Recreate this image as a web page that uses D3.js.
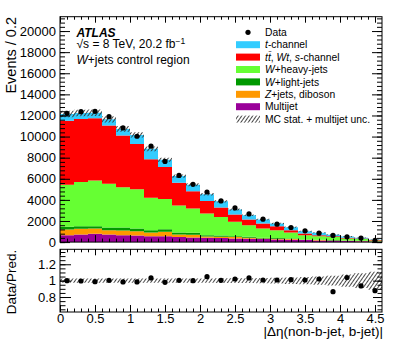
<!DOCTYPE html>
<html>
<head>
<meta charset="utf-8">
<script src="https://cdn.jsdelivr.net/npm/d3@7"></script>
<style>
	body { margin: 0; background: #fff; }
	svg { display: block; font-family: "Liberation Sans", Arial, Helvetica, sans-serif; }
	.axis text { font-size: 13px; fill: #000; }
	.axis line { stroke: #000; stroke-width: 1; }
	.axis path { display: none; }
</style>
</head>
<body>
<div id="graphic"></div>
<script>
// bins of |delta eta|, width 0.2
const binLow = [0.0, 0.2, 0.4, 0.6, 0.8, 1.0, 1.2, 1.4, 1.6, 1.8, 2.0, 2.2, 2.4, 2.6, 2.8, 3.0, 3.2, 3.4, 3.6, 3.8, 4.0, 4.2, 4.4];
const binWidth = 0.2;

// stacked predictions, bottom to top
const multijet   = [660, 723, 786, 723, 660, 629, 566, 566, 472, 440, 409, 377, 346, 315, 283, 252, 220, 189, 157, 126, 110, 80, 30];
const zjets      = [535, 535, 503, 409, 441, 409, 346, 409, 251, 252, 126, 126, 126, 94, 63, 63, 63, 31, 32, 31, 16, 14, 20];
const wlight     = [252, 251, 220, 252, 283, 251, 220, 251, 189, 189, 125, 126, 94, 94, 63, 62, 63, 32, 31, 32, 31, 32, 13];
const wheavy     = [3993, 4183, 4340, 4151, 3805, 3711, 3082, 2862, 2547, 2295, 2044, 1761, 1352, 1101, 880, 755, 566, 408, 346, 283, 189, 157, 94];
const ttbar      = [6069, 5975, 5881, 5503, 4905, 4308, 3648, 3019, 2170, 1635, 1195, 880, 692, 535, 472, 378, 220, 158, 94, 94, 63, 63, 32];
const tchannel   = [629, 566, 534, 597, 629, 849, 974, 692, 629, 629, 629, 598, 472, 408, 378, 251, 283, 220, 221, 126, 126, 63, 31];

const dataCounts = [12201, 12358, 12390, 11887, 10818, 10031, 9088, 7642, 6321, 5472, 4748, 3899, 3239, 2673, 2170, 1698, 1384, 1069, 849, 629, 503, 377, 157];
const dataRatio  = [1.00, 0.996, 0.988, 1.004, 0.984, 0.984, 1.033, 0.98, 1.004, 1.0, 1.049, 1.004, 1.02, 1.033, 1.008, 1.008, 1.012, 1.008, 1.02, 0.865, 1.037, 0.935, 0.878];
// relative MC stat. + multijet uncertainty
const relUnc     = [0.025, 0.025, 0.025, 0.025, 0.025, 0.025, 0.025, 0.025, 0.025, 0.025, 0.025, 0.028, 0.03, 0.03, 0.032, 0.035, 0.04, 0.045, 0.05, 0.06, 0.075, 0.09, 0.11];

const yTicks = [0, 2000, 4000, 6000, 8000, 10000, 12000, 14000, 16000, 18000, 20000];
const xTicks = [0, 0.5, 1, 1.5, 2, 2.5, 3, 3.5, 4, 4.5];
const ratioTicks = [0.8, 1, 1.2];

const series = [
	{ values: multijet, colour: '#990099' },
	{ values: zjets, colour: '#ff9900' },
	{ values: wlight, colour: '#009900' },
	{ values: wheavy, colour: '#66ff33' },
	{ values: ttbar, colour: '#ff0000' },
	{ values: tchannel, colour: '#33ccff' }
];

// legend entries: pieces of [text, italic]
const legendItems = [
	{ type: 'data', parts: [['Data', false]] },
	{ type: 'box', colour: '#33ccff', parts: [['t', true], ['-channel', false]] },
	{ type: 'box', colour: '#ff0000', parts: [['t', true], ['t\u0304', true], [', ', false], ['Wt', true], [', ', false], ['s', true], ['-channel', false]] },
	{ type: 'box', colour: '#66ff33', parts: [['W', true], ['+heavy-jets', false]] },
	{ type: 'box', colour: '#009900', parts: [['W', true], ['+light-jets', false]] },
	{ type: 'box', colour: '#ff9900', parts: [['Z', true], ['+jets, diboson', false]] },
	{ type: 'box', colour: '#990099', parts: [['Multijet', false]] },
	{ type: 'hatch', parts: [['MC stat. + multijet unc.', false]] }
];

const width = 399, height = 355;
const frame = { left: 60, right: 382, top: 16.7, bottom: 242.1 };
const rframe = { top: 249.3, bottom: 312 };

const svg = d3.select('#graphic').append('svg')
	.attr('width', width)
	.attr('height', height);

svg.append('rect').attr('width', width).attr('height', height).attr('fill', '#fff');

const defs = svg.append('defs');
defs.append('pattern')
	.attr('id', 'hatch')
	.attr('patternUnits', 'userSpaceOnUse')
	.attr('width', 3)
	.attr('height', 3)
	.attr('patternTransform', 'rotate(35)')
	.append('line')
	.attr('x1', 0.5).attr('y1', 0)
	.attr('x2', 0.5).attr('y2', 3)
	.attr('stroke', '#333')
	.attr('stroke-width', 0.9);

//scales
const x = d3.scaleLinear().domain([0, 4.6]).range([frame.left, frame.right]);
const y = d3.scaleLinear().domain([0, 21360]).range([frame.bottom, frame.top]);
const yr = d3.scaleLinear().domain([0.617, 1.383]).range([rframe.bottom, rframe.top]);

// step helper: two points per bin
const stepPoints = (fn) => binLow.flatMap((b, i) => [
	{ x: b, ...fn(i) },
	{ x: b + binWidth, ...fn(i) }
]);

// stacked histograms
const tableRows = binLow.map((b, i) => {
	const row = { bin: i };
	series.forEach((s, k) => row['s' + k] = s.values[i]);
	return row;
});
const stacked = d3.stack().keys(series.map((s, k) => 's' + k))(tableRows);

const stackArea = d3.area()
	.x(d => x(d.x))
	.y0(d => y(d.lo))
	.y1(d => y(d.hi));

stacked.forEach((layer, k) => {
	svg.append('path')
		.datum(stepPoints(i => ({ lo: layer[i][0], hi: layer[i][1] })))
		.attr('d', stackArea)
		.attr('fill', series[k].colour);
});

const totals = binLow.map((b, i) => d3.sum(series, s => s.values[i]));

// MC uncertainty band in main panel
svg.append('path')
	.datum(stepPoints(i => ({ lo: totals[i] * (1 - relUnc[i]), hi: totals[i] * (1 + relUnc[i]) })))
	.attr('d', stackArea)
	.attr('fill', 'url(#hatch)');

// main axes
const xMinor = d3.range(0, 46).map(d => d / 10);
const yMinor = d3.range(0, 54).map(d => d * 400);

function addTicks(g, axisFn, scale, values, size) {
	g.call(axisFn(scale).tickValues(values).tickSize(-size).tickFormat(''));
}

const mainAxes = svg.append('g').attr('class', 'axis');

mainAxes.append('g')
	.attr('transform', `translate(${frame.left},0)`)
	.call(d3.axisLeft(y).tickValues(yTicks).tickSize(-10).tickPadding(4).tickFormat(d3.format('d')));
addTicks(mainAxes.append('g').attr('transform', `translate(${frame.left},0)`), d3.axisLeft, y, yMinor, 5);
addTicks(mainAxes.append('g').attr('transform', `translate(${frame.right},0)`), d3.axisRight, y, yTicks, 10);
addTicks(mainAxes.append('g').attr('transform', `translate(${frame.right},0)`), d3.axisRight, y, yMinor, 5);
addTicks(mainAxes.append('g').attr('transform', `translate(0,${frame.bottom})`), d3.axisBottom, x, xTicks, 7);
addTicks(mainAxes.append('g').attr('transform', `translate(0,${frame.bottom})`), d3.axisBottom, x, xMinor, 3.5);
addTicks(mainAxes.append('g').attr('transform', `translate(0,${frame.top})`), d3.axisTop, x, xTicks, 6);
addTicks(mainAxes.append('g').attr('transform', `translate(0,${frame.top})`), d3.axisTop, x, xMinor, 3);

svg.append('rect')
	.attr('x', frame.left).attr('y', frame.top)
	.attr('width', frame.right - frame.left)
	.attr('height', frame.bottom - frame.top)
	.attr('fill', 'none').attr('stroke', '#000');

// data points
svg.append('g')
	.selectAll('circle')
	.data(dataCounts)
	.join('circle')
	.attr('cx', (d, i) => x(binLow[i] + binWidth / 2))
	.attr('cy', d => y(d))
	.attr('r', 2.6)
	.attr('fill', '#000');

// ratio panel
const ratioArea = d3.area()
	.x(d => x(d.x))
	.y0(d => yr(d.lo))
	.y1(d => yr(d.hi));

svg.append('path')
	.datum(stepPoints(i => ({ lo: 1 - relUnc[i], hi: 1 + relUnc[i] })))
	.attr('d', ratioArea)
	.attr('fill', 'url(#hatch)');

const ratioAxes = svg.append('g').attr('class', 'axis');
const rMinor = d3.range(13, 28).map(d => d * 0.05);

ratioAxes.append('g')
	.attr('transform', `translate(${frame.left},0)`)
	.call(d3.axisLeft(yr).tickValues(ratioTicks).tickSize(-11).tickPadding(4).tickFormat(d => String(d)));
addTicks(ratioAxes.append('g').attr('transform', `translate(${frame.left},0)`), d3.axisLeft, yr, rMinor, 5.5);
addTicks(ratioAxes.append('g').attr('transform', `translate(${frame.right},0)`), d3.axisRight, yr, ratioTicks, 9);
addTicks(ratioAxes.append('g').attr('transform', `translate(${frame.right},0)`), d3.axisRight, yr, rMinor, 4.5);
ratioAxes.append('g')
	.attr('transform', `translate(0,${rframe.bottom})`)
	.call(d3.axisBottom(x).tickValues(xTicks).tickSize(-7).tickPadding(2).tickFormat(d => String(d)));
addTicks(ratioAxes.append('g').attr('transform', `translate(0,${rframe.bottom})`), d3.axisBottom, x, xMinor, 3.5);
addTicks(ratioAxes.append('g').attr('transform', `translate(0,${rframe.top})`), d3.axisTop, x, xTicks, 6);
addTicks(ratioAxes.append('g').attr('transform', `translate(0,${rframe.top})`), d3.axisTop, x, xMinor, 3);

svg.append('rect')
	.attr('x', frame.left).attr('y', rframe.top)
	.attr('width', frame.right - frame.left)
	.attr('height', rframe.bottom - rframe.top)
	.attr('fill', 'none').attr('stroke', '#000');

svg.append('g')
	.selectAll('circle')
	.data(dataRatio)
	.join('circle')
	.attr('cx', (d, i) => x(binLow[i] + binWidth / 2))
	.attr('cy', d => yr(d))
	.attr('r', 2.6)
	.attr('fill', '#000');

// axis titles
svg.append('text')
	.attr('transform', 'translate(15.5,17) rotate(-90)')
	.attr('text-anchor', 'end')
	.attr('font-size', 14.5)
	.text('Events / 0.2');

svg.append('text')
	.attr('transform', 'translate(15.5,282) rotate(-90)')
	.attr('text-anchor', 'middle')
	.attr('font-size', 13.5)
	.text('Data/Pred.');

svg.append('text')
	.attr('x', 383).attr('y', 336)
	.attr('text-anchor', 'end')
	.attr('font-size', 13.5)
	.text('|\u0394\u03b7(non-b-jet, b-jet)|');

// ATLAS label
svg.append('text')
	.attr('x', 76.5).attr('y', 36.7)
	.attr('font-size', 12)
	.attr('font-weight', 'bold')
	.attr('font-style', 'italic')
	.text('ATLAS');

const lumi = svg.append('text').attr('x', 76.5).attr('y', 48).attr('font-size', 12);
lumi.append('tspan').text('\u221as = 8 TeV, 20.2 fb');
lumi.append('tspan').attr('dy', -4.5).attr('font-size', 8.5).text('\u22121');

const region = svg.append('text').attr('x', 76.5).attr('y', 63.5).attr('font-size', 12);
region.append('tspan').attr('font-style', 'italic').text('W');
region.append('tspan').text('+jets control region');

// legend
const legend = svg.append('g');
legendItems.forEach((item, i) => {
	const cy = 32.3 + i * 12.4;
	if (item.type === 'data') {
		legend.append('circle').attr('cx', 248).attr('cy', cy).attr('r', 2.6).attr('fill', '#000');
	} else if (item.type === 'box') {
		legend.append('rect').attr('x', 236).attr('y', cy - 3.5).attr('width', 24).attr('height', 7).attr('fill', item.colour);
	} else {
		legend.append('rect').attr('x', 236).attr('y', cy - 3.5).attr('width', 24).attr('height', 7).attr('fill', 'url(#hatch)');
	}
	const t = legend.append('text')
		.attr('x', 265).attr('y', cy + 3.6)
		.attr('font-size', 10.3);
	item.parts.forEach(([txt, it]) => {
		t.append('tspan').attr('font-style', it ? 'italic' : 'normal').text(txt);
	});
});
</script>
</body>
</html>
